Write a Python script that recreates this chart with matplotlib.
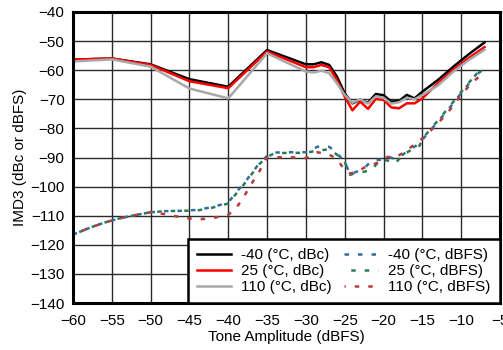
import matplotlib
matplotlib.use('Agg')
import matplotlib.pyplot as plt

plt.rcParams['font.family'] = ['Liberation Sans', 'DejaVu Sans']

# tone amplitude (dBFS) for the dBc curves
amp_dbc = [-60, -55, -50, -45, -40, -35, -30, -29, -28, -27, -26, -25, -24, -23,
           -22, -21, -20, -19, -18, -17, -16, -15, -13, -11, -9, -7]
imd_m40_dbc = [-56.4, -56.0, -58.0, -63.1, -65.7, -53.1, -58.0, -58.0, -57.3, -58.2,
               -62.2, -68.0, -71.4, -70.2, -71.2, -68.2, -68.6, -70.8, -70.6, -68.5,
               -69.7, -67.4, -63.4, -58.8, -54.5, -50.5]
imd_25_dbc = [-56.4, -56.0, -58.2, -63.8, -66.2, -53.6, -59.0, -59.0, -58.2, -59.0,
              -63.4, -69.1, -73.8, -70.8, -73.3, -69.9, -70.2, -72.8, -73.1, -71.4,
              -71.4, -69.7, -64.5, -59.8, -55.8, -52.1]
imd_110_dbc = [-57.0, -56.3, -58.8, -66.3, -69.7, -54.2, -60.5, -60.8, -60.2, -61.0,
               -64.5, -68.5, -71.2, -70.0, -71.5, -69.0, -69.5, -71.5, -71.0, -69.5,
               -70.0, -68.5, -65.3, -60.5, -56.5, -53.0]

# tone amplitude (dBFS) for the dBFS curves
amp_dbfs = [-60, -58, -56, -54, -52, -50, -48, -46, -44, -42, -40, -39, -38, -37,
            -36, -35, -34, -32, -30, -28.5, -27, -26, -25, -24.3, -23.4, -22.5,
            -21.5, -20.5, -19.5, -18.5, -17.5, -16.5, -15.5, -14.5, -13, -11.5,
            -10, -8.5, -7.3]
imd_m40_dbfs = [-116.5, -114.3, -112.4, -110.9, -109.8, -108.8, -108.4, -108.3, -108.0,
                -107.0, -105.5, -102.0, -99.0, -95.5, -92.0, -89.5, -88.3, -88.2,
                -88.2, -86.3, -86.3, -88.5, -91.5, -95.8, -94.8, -93.7, -91.0, -90.8,
                -89.7, -90.5, -89.0, -87.0, -85.5, -82.3, -77.7, -73.0, -67.9, -63.0,
                -58.7]
imd_25_dbfs = [-116.5, -114.3, -112.4, -110.9, -109.8, -108.8, -108.4, -108.3, -108.2,
               -107.2, -105.8, -102.5, -99.3, -95.8, -92.3, -89.8, -88.5, -88.4,
               -88.4, -87.6, -87.2, -89.0, -91.5, -96.0, -95.0, -94.9, -94.2, -90.9,
               -91.0, -92.0, -89.1, -87.5, -86.5, -82.0, -77.3, -72.5, -67.5, -62.7,
               -60.0]
imd_110_dbfs = [-116.5, -114.3, -112.4, -110.9, -109.8, -108.8, -109.5, -110.6, -111.3,
                -110.8, -109.7, -107.5, -103.5, -99.0, -94.8, -90.0, -89.9, -89.9,
                -90.2, -88.2, -89.0, -90.5, -94.3, -95.5, -94.9, -93.5, -92.6, -91.5,
                -89.8, -89.9, -88.5, -86.5, -84.5, -82.3, -78.3, -73.8, -68.5, -64.0,
                -61.5]

fs = 11

fig = plt.figure(figsize=(5.03, 3.5), dpi=100)
ax = fig.add_axes([0.145, 0.134, 0.849, 0.832])

ax.plot(amp_dbc, imd_m40_dbc, color='black', lw=1.8, label='-40 (°C, dBc)')
ax.plot(amp_dbc, imd_25_dbc, color='#ff0000', lw=1.8, label='25 (°C, dBc)')
ax.plot(amp_dbc, imd_110_dbc, color='#a8a8a8', lw=1.8, label='110 (°C, dBc)')

ax.plot(amp_dbfs, imd_m40_dbfs, color='#2f6f9c', lw=1.8, ls=(0, (1.8, 3.6)),
        label='-40 (°C, dBFS)')
ax.plot(amp_dbfs, imd_25_dbfs, color='#2e7a58', lw=1.8, ls=(2.7, (1.8, 3.6)),
        label='25 (°C, dBFS)')
ax.plot(amp_dbfs, imd_110_dbfs, color='#b33c3c', lw=1.8, ls=(1.3, (1.8, 3.6)),
        label='110 (°C, dBFS)')

ax.set_xlim(-60, -5)
ax.set_ylim(-140, -40)
ax.set_xticks(range(-60, -4, 5))
ax.set_yticks(range(-140, -39, 10))
ax.grid(True, color='#2a2a2a', lw=1.0)
ax.set_axisbelow(True)
ax.tick_params(length=0, labelsize=fs)
ax.tick_params(axis='x', pad=8)
ax.tick_params(axis='y', pad=6)
for s in ax.spines.values():
    s.set_linewidth(2.2)

ax.set_xlabel('Tone Amplitude (dBFS)', fontsize=fs, labelpad=1)
ax.set_ylabel('IMD3 (dBc or dBFS)', fontsize=fs, labelpad=2)

leg = ax.legend(loc='lower right', ncol=2, fontsize=fs, frameon=True, fancybox=False,
                handlelength=2.2, handletextpad=0.7, columnspacing=0.8,
                labelspacing=0.12, borderpad=0.6, borderaxespad=0.0)
leg.get_frame().set_edgecolor('black')
leg.get_frame().set_linewidth(1.8)
leg.get_frame().set_alpha(1)

fig.savefig('out.png', dpi=100)
